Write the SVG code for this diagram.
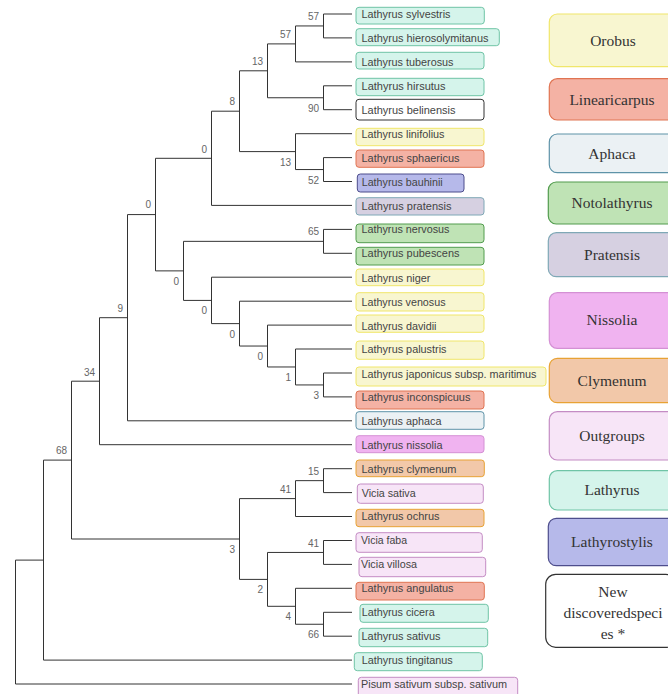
<svg xmlns="http://www.w3.org/2000/svg" width="668" height="694" viewBox="0 0 668 694">
<style>
.bg{fill:#ffffff}
.br{fill:none;stroke:#333;stroke-width:1}
.bs{font-family:"Liberation Sans",Arial,sans-serif;font-size:10px;fill:#666;text-anchor:end}
.lt{font-family:"Liberation Sans",Arial,sans-serif;font-size:11px;fill:#444}
.lg{font-family:"Liberation Serif","Times New Roman",serif;font-size:15.5px;fill:#333;text-anchor:middle}
.teal{fill:#d5f4eb;stroke:#6fc4a6}
.yel{fill:#f8f6d0;stroke:#f0e66a}
.red{fill:#f4b2a4;stroke:#e07452}
.blu{fill:#b6b9ea;stroke:#4d4d8c}
.lav{fill:#d6d0e1;stroke:#7fa8b6}
.grn{fill:#bfe3b5;stroke:#529c4e}
.aph{fill:#ebf1f4;stroke:#5e93a8}
.mag{fill:#f0b3f0;stroke:#d490d4}
.pch{fill:#f2c8a9;stroke:#e8a234}
.out{fill:#f7e5f7;stroke:#c48cc4}
.new{fill:#ffffff;stroke:#333}
.lb rect{stroke-width:1}
.leg rect{stroke-width:1.2}
</style>
<rect class="bg" x="0" y="0" width="668" height="694"/>

<g id="connectors">
<path class="br" d="M352 14 H323.5 V37.9 H352"/>
<path class="br" d="M323.5 25.95 H295.5 V61.9 H352"/>
<path class="br" d="M352 85.8 H323.5 V109.7 H352"/>
<path class="br" d="M295.5 43.9 H267.5 V97.75 H323.5"/>
<path class="br" d="M352 157.6 H323.5 V181.5 H352"/>
<path class="br" d="M352 133.7 H295.5 V169.55 H323.5"/>
<path class="br" d="M267.5 70.8 H239.5 V151.6 H295.5"/>
<path class="br" d="M239.5 111.2 H211.5 V205.4 H352"/>
<path class="br" d="M352 229.4 H323.5 V253.3 H352"/>
<path class="br" d="M352 373 H323.5 V396.9 H352"/>
<path class="br" d="M352 349 H295.5 V384.95 H323.5"/>
<path class="br" d="M352 325.1 H267.5 V366.98 H295.5"/>
<path class="br" d="M352 301.2 H239.5 V346.04 H267.5"/>
<path class="br" d="M352 277.2 H211.5 V323.62 H239.5"/>
<path class="br" d="M323.5 241.35 H183.5 V300.41 H211.5"/>
<path class="br" d="M211.5 158.3 H155.5 V270.88 H183.5"/>
<path class="br" d="M155.5 214.59 H127.5 V420.8 H352"/>
<path class="br" d="M127.5 317.7 H99.5 V444.7 H352"/>
<path class="br" d="M352 468.7 H323.5 V492.6 H352"/>
<path class="br" d="M323.5 480.65 H295.5 V516.5 H352"/>
<path class="br" d="M352 540.5 H323.5 V564.4 H352"/>
<path class="br" d="M352 612.3 H323.5 V636.2 H352"/>
<path class="br" d="M352 588.3 H295.5 V624.25 H323.5"/>
<path class="br" d="M323.5 552.45 H267.5 V606.3 H295.5"/>
<path class="br" d="M295.5 498.6 H239.5 V579.4 H267.5"/>
<path class="br" d="M99.5 381.2 H71.5 V539 H239.5"/>
<path class="br" d="M71.5 460.1 H43.5 V660.1 H352"/>
<path class="br" d="M43.5 560.1 H15.5 V684 H352"/>
</g>

<g id="bootstrap">
<text class="bs" x="319" y="20">57</text>
<text class="bs" x="291" y="38">57</text>
<text class="bs" x="319" y="111.5">90</text>
<text class="bs" x="263" y="65">13</text>
<text class="bs" x="319" y="183.5">52</text>
<text class="bs" x="291" y="166">13</text>
<text class="bs" x="235" y="105">8</text>
<text class="bs" x="207" y="152.5">0</text>
<text class="bs" x="319" y="235">65</text>
<text class="bs" x="319" y="398.5">3</text>
<text class="bs" x="291" y="380.5">1</text>
<text class="bs" x="263" y="360">0</text>
<text class="bs" x="235" y="337.5">0</text>
<text class="bs" x="207" y="314">0</text>
<text class="bs" x="179" y="284.5">0</text>
<text class="bs" x="151" y="208">0</text>
<text class="bs" x="123" y="312">9</text>
<text class="bs" x="95" y="376">34</text>
<text class="bs" x="319" y="475">15</text>
<text class="bs" x="291" y="493">41</text>
<text class="bs" x="319" y="546.5">41</text>
<text class="bs" x="319" y="638">66</text>
<text class="bs" x="291" y="620">4</text>
<text class="bs" x="263" y="593">2</text>
<text class="bs" x="235" y="553">3</text>
<text class="bs" x="67" y="454">68</text>
</g>

<g class="lb">
<g id="leaf-sylvestris"><rect class="teal" x="356" y="7.3" width="128.3" height="16.7" rx="3"/><text class="lt" x="361.5" y="18" textLength="89" lengthAdjust="spacingAndGlyphs">Lathyrus sylvestris</text></g>
<g id="leaf-hierosolymitanus"><rect class="teal" x="356" y="28.7" width="143.3" height="17" rx="3"/><text class="lt" x="361.5" y="42" textLength="127" lengthAdjust="spacingAndGlyphs">Lathyrus hierosolymitanus</text></g>
<g id="leaf-tuberosus"><rect class="teal" x="356" y="52.3" width="128" height="16.7" rx="3"/><text class="lt" x="361.5" y="66" textLength="92" lengthAdjust="spacingAndGlyphs">Lathyrus tuberosus</text></g>
<g id="leaf-hirsutus"><rect class="teal" x="356" y="78.3" width="128" height="17.4" rx="3"/><text class="lt" x="361.5" y="89.5" textLength="84" lengthAdjust="spacingAndGlyphs">Lathyrus hirsutus</text></g>
<g id="leaf-belinensis"><rect class="new" x="356" y="99.3" width="128" height="20.7" rx="3"/><text class="lt" x="361.5" y="113.5" textLength="94" lengthAdjust="spacingAndGlyphs">Lathyrus belinensis</text></g>
<g id="leaf-linifolius"><rect class="yel" x="356" y="128.3" width="128" height="17.4" rx="3"/><text class="lt" x="361.5" y="137.5" textLength="83" lengthAdjust="spacingAndGlyphs">Lathyrus linifolius</text></g>
<g id="leaf-sphaericus"><rect class="red" x="356" y="150" width="128" height="17.3" rx="3"/><text class="lt" x="361.5" y="161.5" textLength="98" lengthAdjust="spacingAndGlyphs">Lathyrus sphaericus</text></g>
<g id="leaf-bauhinii"><rect class="blu" x="357.3" y="174" width="106.7" height="18" rx="3"/><text class="lt" x="361.7" y="185.5" textLength="81" lengthAdjust="spacingAndGlyphs">Lathyrus bauhinii</text></g>
<g id="leaf-pratensis"><rect class="lav" x="356" y="197.7" width="128" height="17.3" rx="3"/><text class="lt" x="361.5" y="209.5" textLength="90" lengthAdjust="spacingAndGlyphs">Lathyrus pratensis</text></g>
<g id="leaf-nervosus"><rect class="grn" x="356" y="224" width="128" height="18.7" rx="3"/><text class="lt" x="361.5" y="232.5" textLength="88" lengthAdjust="spacingAndGlyphs">Lathyrus nervosus</text></g>
<g id="leaf-pubescens"><rect class="grn" x="356" y="247.3" width="128" height="17.7" rx="3"/><text class="lt" x="361.5" y="257" textLength="98" lengthAdjust="spacingAndGlyphs">Lathyrus pubescens</text></g>
<g id="leaf-niger"><rect class="yel" x="356" y="269" width="128" height="16.7" rx="3"/><text class="lt" x="361.5" y="281.5" textLength="69" lengthAdjust="spacingAndGlyphs">Lathyrus niger</text></g>
<g id="leaf-venosus"><rect class="yel" x="356" y="292.7" width="128" height="18.3" rx="3"/><text class="lt" x="361.5" y="305.5" textLength="84" lengthAdjust="spacingAndGlyphs">Lathyrus venosus</text></g>
<g id="leaf-davidii"><rect class="yel" x="356" y="315" width="128" height="17.3" rx="3"/><text class="lt" x="361.5" y="329.5" textLength="75" lengthAdjust="spacingAndGlyphs">Lathyrus davidii</text></g>
<g id="leaf-palustris"><rect class="yel" x="356" y="341" width="128" height="18.3" rx="3"/><text class="lt" x="361.5" y="353" textLength="85" lengthAdjust="spacingAndGlyphs">Lathyrus palustris</text></g>
<g id="leaf-japonicus"><rect class="yel" x="356" y="367" width="190" height="19" rx="3"/><text class="lt" x="361.5" y="377.5" textLength="175" lengthAdjust="spacingAndGlyphs">Lathyrus japonicus subsp. maritimus</text></g>
<g id="leaf-inconspicuus"><rect class="red" x="356" y="391" width="128" height="18" rx="3"/><text class="lt" x="361.5" y="400.5" textLength="109" lengthAdjust="spacingAndGlyphs">Lathyrus inconspicuus</text></g>
<g id="leaf-aphaca"><rect class="aph" x="356" y="411.7" width="128" height="17.6" rx="3"/><text class="lt" x="361.5" y="425" textLength="80" lengthAdjust="spacingAndGlyphs">Lathyrus aphaca</text></g>
<g id="leaf-nissolia"><rect class="mag" x="356" y="435.7" width="128" height="17" rx="3"/><text class="lt" x="361.5" y="449" textLength="81" lengthAdjust="spacingAndGlyphs">Lathyrus nissolia</text></g>
<g id="leaf-clymenum"><rect class="pch" x="356" y="460" width="128.3" height="16.7" rx="3"/><text class="lt" x="361.5" y="472.5" textLength="95" lengthAdjust="spacingAndGlyphs">Lathyrus clymenum</text></g>
<g id="leaf-vicia-sativa"><rect class="out" x="357.3" y="484" width="126" height="19.3" rx="3"/><text class="lt" x="361.7" y="497" textLength="54" lengthAdjust="spacingAndGlyphs">Vicia sativa</text></g>
<g id="leaf-ochrus"><rect class="pch" x="356" y="509.3" width="128" height="17.4" rx="3"/><text class="lt" x="361.5" y="520" textLength="78" lengthAdjust="spacingAndGlyphs">Lathyrus ochrus</text></g>
<g id="leaf-vicia-faba"><rect class="out" x="356" y="532.7" width="126.3" height="19.6" rx="3"/><text class="lt" x="361" y="544" textLength="46" lengthAdjust="spacingAndGlyphs">Vicia faba</text></g>
<g id="leaf-vicia-villosa"><rect class="out" x="359" y="557.3" width="126.7" height="19.4" rx="3"/><text class="lt" x="361" y="568" textLength="56" lengthAdjust="spacingAndGlyphs">Vicia villosa</text></g>
<g id="leaf-angulatus"><rect class="red" x="356" y="582.3" width="128.3" height="17.7" rx="3"/><text class="lt" x="361.5" y="592" textLength="92" lengthAdjust="spacingAndGlyphs">Lathyrus angulatus</text></g>
<g id="leaf-cicera"><rect class="teal" x="360" y="604.3" width="128.3" height="18" rx="3"/><text class="lt" x="361.7" y="616" textLength="73" lengthAdjust="spacingAndGlyphs">Lathyrus cicera</text></g>
<g id="leaf-sativus"><rect class="teal" x="359" y="628.3" width="128.7" height="18.4" rx="3"/><text class="lt" x="361.5" y="640" textLength="79" lengthAdjust="spacingAndGlyphs">Lathyrus sativus</text></g>
<g id="leaf-tingitanus"><rect class="teal" x="354.3" y="652.7" width="128" height="18" rx="3"/><text class="lt" x="361.7" y="664" textLength="91" lengthAdjust="spacingAndGlyphs">Lathyrus tingitanus</text></g>
<g id="leaf-pisum"><rect class="out" x="358.3" y="677.3" width="159.4" height="20" rx="3"/><text class="lt" x="361" y="688" textLength="146" lengthAdjust="spacingAndGlyphs">Pisum sativum subsp. sativum</text></g>
</g>

<g class="leg">
<g id="legend-orobus"><rect class="yel" x="549.3" y="14" width="128" height="52.7" rx="8"/><text class="lg" x="613" y="46">Orobus</text></g>
<g id="legend-linearicarpus"><rect class="red" x="549.3" y="78.7" width="128" height="41.3" rx="8"/><text class="lg" x="612" y="104.5">Linearicarpus</text></g>
<g id="legend-aphaca"><rect class="aph" x="549.3" y="134" width="128" height="38.7" rx="8"/><text class="lg" x="612" y="158.5">Aphaca</text></g>
<g id="legend-notolathyrus"><rect class="grn" x="548.3" y="182" width="128" height="42" rx="8"/><text class="lg" x="612" y="208">Notolathyrus</text></g>
<g id="legend-pratensis"><rect class="lav" x="548.3" y="232.7" width="128" height="44" rx="8"/><text class="lg" x="612" y="260">Pratensis</text></g>
<g id="legend-nissolia"><rect class="mag" x="549.3" y="292.7" width="128" height="55.6" rx="8"/><text class="lg" x="612" y="325">Nissolia</text></g>
<g id="legend-clymenum"><rect class="pch" x="549.3" y="358.3" width="128" height="44.4" rx="8"/><text class="lg" x="612" y="386">Clymenum</text></g>
<g id="legend-outgroups"><rect class="out" x="549.3" y="411.7" width="128" height="48.3" rx="8"/><text class="lg" x="612" y="441">Outgroups</text></g>
<g id="legend-lathyrus"><rect class="teal" x="549.3" y="470.7" width="128" height="39.3" rx="8"/><text class="lg" x="612" y="495">Lathyrus</text></g>
<g id="legend-lathyrostylis"><rect class="blu" x="548.3" y="518.3" width="128" height="47.4" rx="8"/><text class="lg" x="612" y="547">Lathyrostylis</text></g>
<g id="legend-new"><rect class="new" x="545.7" y="574.3" width="130" height="73" rx="10"/><text class="lg" x="613" y="597">New</text><text class="lg" x="613" y="618">discoveredspeci</text><text class="lg" x="613" y="638.5">es *</text></g>
</g>
</svg>
